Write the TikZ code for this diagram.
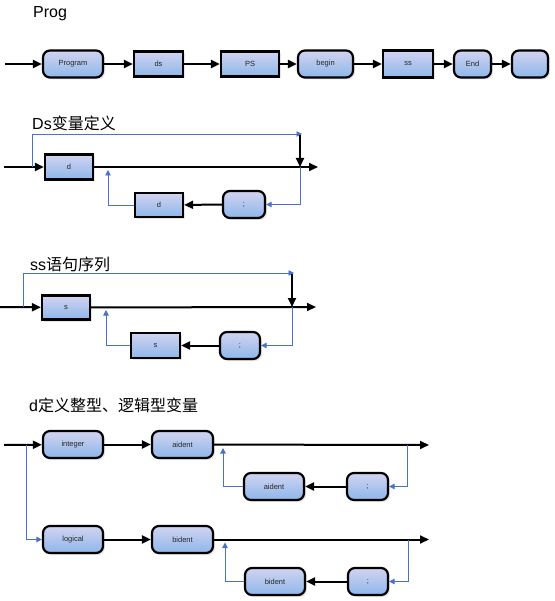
\documentclass[tikz,border=0pt]{standalone}
\usepackage{fontspec}
\setmainfont{Liberation Sans}
\newfontfamily\cjk{Noto Sans CJK SC}
\usetikzlibrary{arrows.meta,shadows}
\definecolor{lnblue}{HTML}{4A72C4}
\definecolor{boxlight}{HTML}{D2D3F0}
\definecolor{boxblue}{HTML}{8DB7EA}
\tikzset{
  sbox/.style={draw=black, line width=2.2pt, inner sep=0pt,
    left color=boxlight, right color=boxblue, shading angle=0,
    drop shadow={shadow xshift=2pt, shadow yshift=-2pt, opacity=0.2},
    font=\fontsize{7.5}{8}\selectfont, text=black!85},
  rbox/.style={sbox, rounded corners=7pt},
  mainln/.style={line width=2pt, draw=black},
  mainarr/.style={mainln, -{Triangle[length=9pt,width=8pt]}},
  blueln/.style={line width=0.9pt, draw=lnblue},
  bluearr/.style={blueln, -{Triangle[length=5.5pt,width=5.5pt]}, lnblue},
  title/.style={anchor=west, inner sep=0pt, font=\fontsize{16}{18}\selectfont}
}
\begin{document}
\begin{tikzpicture}[x=1pt,y=-1pt]
\useasboundingbox (0,0) rectangle (554,601);
% ---------- Prog ----------
\node[title] (t1) at (33,14) {Prog};
\coordinate (p0) at (5,64);
\node[rbox, minimum width=60pt, minimum height=27pt] (prog) at (73,64) {Program};
\node[sbox, minimum width=49pt, minimum height=25pt] (ds) at (158.5,64) {ds};
\node[sbox, minimum width=58pt, minimum height=25pt] (ps) at (250,64) {PS};
\node[rbox, minimum width=55pt, minimum height=27pt] (begin) at (325.5,64) {begin};
\node[sbox, minimum width=50pt, minimum height=27pt] (ssb) at (408,64) {ss};
\node[rbox, minimum width=37pt, minimum height=27pt] (endb) at (472.5,64) {End};
\node[rbox, minimum width=36pt, minimum height=27pt] (empty) at (530,64) {};
\draw[mainarr] (p0) -- (prog);
\draw[mainarr] (prog) -- (ds);
\draw[mainarr] (ds) -- (ps);
\draw[mainarr] (ps) -- (begin);
\draw[mainarr] (begin) -- (ssb);
\draw[mainarr] (ssb) -- (endb);
\draw[mainarr] (endb) -- (empty);
% ---------- Ds ----------
\node[title] (t2) at (32,123) {Ds{\cjk 变量定义}};
\coordinate (a0) at (4,167);
\coordinate (abr) at (32,167);
\coordinate (atop) at (302,134);
\coordinate (ajoin) at (300,167);
\coordinate (aend) at (318,167);
\coordinate (aup) at (108,170);
\node[sbox, minimum width=48pt, minimum height=25pt] (d1) at (69,167) {d};
\node[rbox, minimum width=42pt, minimum height=27pt] (semi1) at (244,204.5) {;};
\node[sbox, minimum width=48pt, minimum height=24pt] (d2) at (159,205) {d};
\draw[mainarr] (a0) -- (d1);
\draw[bluearr] (abr) |- (atop);
\draw[mainarr] (300,135) -- (ajoin);
\draw[mainarr] (d1) -- (aend);
\draw[bluearr] (ajoin) |- (semi1.east);
\draw[mainarr] (semi1) -- (d2);
\draw[bluearr] (d2.west) -| (aup);
% ---------- ss ----------
\node[title] (t3) at (30,264) {ss{\cjk 语句序列}};
\coordinate (b0) at (0,307);
\coordinate (bbr) at (23,307);
\coordinate (btop) at (294,273);
\coordinate (bjoin) at (292,307);
\coordinate (bend) at (316,307);
\coordinate (bup) at (106,310);
\node[sbox, minimum width=48pt, minimum height=24pt] (s1) at (66,307.5) {s};
\node[rbox, minimum width=40pt, minimum height=27pt] (semi2) at (240,345.5) {;};
\node[sbox, minimum width=49pt, minimum height=25pt] (s2) at (155.5,345.5) {s};
\draw[mainarr] (b0) -- (s1);
\draw[bluearr] (bbr) |- (btop);
\draw[mainarr] (292,274) -- (bjoin);
\draw[mainarr] (s1) -- (bend);
\draw[bluearr] (bjoin) |- (semi2.east);
\draw[mainarr] (semi2) -- (s2);
\draw[bluearr] (s2.west) -| (bup);
% ---------- d ----------
\node[title] (t4) at (29,405) {d{\cjk 定义整型、逻辑型变量}};
\coordinate (c0) at (4,445);
\coordinate (cbr) at (26,445);
\coordinate (cjoin) at (407,445);
\coordinate (cend) at (429,445);
\coordinate (cup) at (223,448);
\node[rbox, minimum width=60pt, minimum height=27pt] (integer) at (73,444.5) {integer};
\node[rbox, minimum width=61pt, minimum height=27pt] (aident) at (182.5,444.5) {aident};
\node[rbox, minimum width=41pt, minimum height=27pt] (semi3) at (367.5,486.5) {;};
\node[rbox, minimum width=60pt, minimum height=27pt] (aident2) at (274,486.5) {aident};
\draw[mainarr] (c0) -- (integer);
\draw[mainarr] (integer) -- (aident);
\draw[mainarr] (aident) -- (cend);
\draw[bluearr] (cjoin) |- (semi3.east);
\draw[mainarr] (semi3) -- (aident2);
\draw[bluearr] (aident2.west) -| (cup);
\coordinate (ejoin) at (408,539.5);
\coordinate (eend) at (429,539.5);
\coordinate (eup) at (225,542.5);
\node[rbox, minimum width=60pt, minimum height=27pt] (logical) at (73,539.5) {logical};
\node[rbox, minimum width=61pt, minimum height=27pt] (bident) at (182.5,539.5) {bident};
\node[rbox, minimum width=40pt, minimum height=27pt] (semi4) at (368,581.5) {;};
\node[rbox, minimum width=60pt, minimum height=27pt] (bident2) at (275,581.5) {bident};
\draw[bluearr] (cbr) |- (logical.west);
\draw[mainarr] (logical) -- (bident);
\draw[mainarr] (bident) -- (eend);
\draw[bluearr] (ejoin) |- (semi4.east);
\draw[mainarr] (semi4) -- (bident2);
\draw[bluearr] (bident2.west) -| (eup);
\end{tikzpicture}
\end{document}
